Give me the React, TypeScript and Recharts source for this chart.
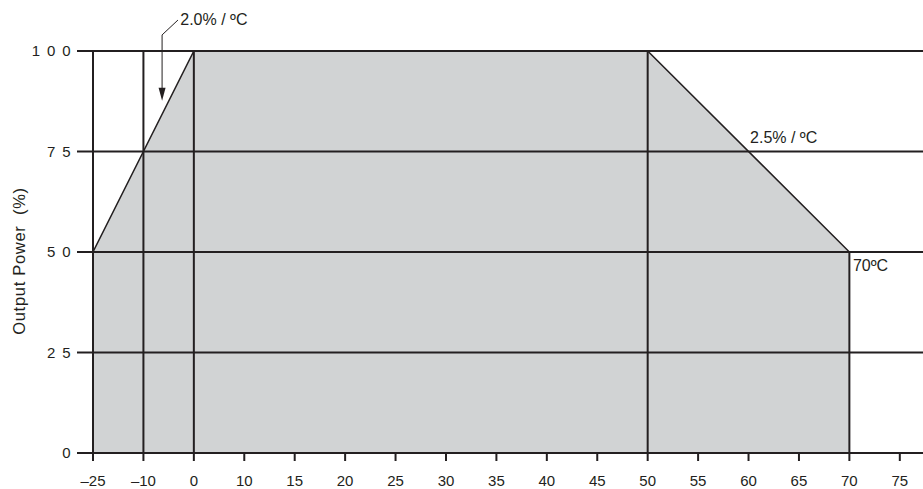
import React from 'react';
import { ComposedChart, Area, XAxis, YAxis, ReferenceLine, ReferenceDot } from 'recharts';

// Axis tick temperatures (°C) – the axis is evenly spaced by tick, not by value
const tickTemps = [-25, -10, 0, 10, 15, 20, 25, 30, 35, 40, 45, 50, 55, 60, 65, 70, 75];
const tickLabels = ['–25', '–10', '0', '10', '15', '20', '25', '30', '35', '40', '45', '50', '55', '60', '65', '70', '75'];

// Derating curve
const curveTemps = [-25, 0, 50, 70];
const curvePower = [50, 100, 100, 50];

// Y ticks
const yTicks = [0, 25, 50, 75, 100];
const yTickLabels = ['0', '2 5', '5 0', '7 5', '1 0 0'];

// Vertical grid temperatures
const gridTemps = [-25, -10, 0, 50];
const cutoffTemp = 70;
const cutoffPower = 50;

// Annotation texts
const slopeLeftLabel = '2.0% / ºC';
const slopeRightLabel = '2.5% / ºC';
const cutoffLabel = '70ºC';
const yTitle = 'Output Power  (%)';

const INK = '#231f20';
const FILL = '#d1d3d4';
const FONT = '"Liberation Sans", Arial, Helvetica, sans-serif';

// map a temperature onto the evenly spaced tick index axis
function toPos(t: number): number {
  for (let i = 0; i < tickTemps.length - 1; i++) {
    const a = tickTemps[i];
    const b = tickTemps[i + 1];
    if (t <= b || i === tickTemps.length - 2) {
      return i + (t - a) / (b - a);
    }
  }
  return 0;
}

const data = curveTemps.map((t, i) => ({ pos: toPos(t), power: curvePower[i] }));
const xTickPositions = tickTemps.map((_, i) => i);

const YTick = (props: any) => {
  const { x, y, payload } = props;
  const idx = yTicks.indexOf(payload.value);
  return (
    <text x={x} y={y} dy="0.36em" textAnchor="end" fill={INK} fontSize={15} fontFamily={FONT} letterSpacing={1.4} style={{ whiteSpace: 'pre' }}>
      {yTickLabels[idx]}
    </text>
  );
};

const XTick = (props: any) => {
  const { x, y, payload } = props;
  return (
    <text x={x} y={y} dy="0.71em" textAnchor="middle" fill={INK} fontSize={15} fontFamily={FONT}>
      {tickLabels[Math.round(payload.value)]}
    </text>
  );
};

const YTitle = (props: any) => {
  const vb = props.viewBox || { x: 0, y: 51, width: 93, height: 402 };
  const cx = vb.x + 19;
  const cy = vb.y + vb.height / 2 + 9;
  return (
    <text
      x={cx}
      y={cy}
      transform={`rotate(-90 ${cx} ${cy})`}
      textAnchor="middle"
      dy="0.36em"
      fill={INK}
      fontSize={16.5}
      fontFamily={FONT}
      letterSpacing={0.7}
      style={{ whiteSpace: 'pre' }}
    >
      {yTitle}
    </text>
  );
};

const textShape = (label: string) => (p: any) => (
  <text x={p.cx} y={p.cy} fill={INK} fontSize={16} fontFamily={FONT}>
    {label}
  </text>
);

const arrowHead = (p: any) => (
  <polygon
    points={`${p.cx},${p.cy} ${p.cx - 3.5},${p.cy - 13} ${p.cx + 3.5},${p.cy - 13}`}
    fill={INK}
  />
);

// annotation anchors (temperature, power)
const arrowTemp = -6.3;
const arrowTip = 87.6;
const arrowKnee = 104;
const leaderEnd = { t: -3.15, p: 107.7 };

export default function App() {
  return (
    <div style={{ position: 'absolute', left: 0, top: 0, background: '#fff' }}>
      <ComposedChart
        width={923}
        height={489}
        data={data}
        margin={{ top: 51, right: 0, bottom: 0, left: 0 }}
        style={{ fontFamily: FONT }}
      >
        <XAxis
          dataKey="pos"
          type="number"
          domain={[0, 16.46]}
          ticks={xTickPositions}
          allowDataOverflow
          height={36}
          tickSize={8}
          tickMargin={14}
          axisLine={{ stroke: INK, strokeWidth: 2 }}
          tickLine={{ stroke: INK, strokeWidth: 2 }}
          tick={<XTick />}
          interval={0}
        />
        <YAxis
          type="number"
          domain={[0, 100]}
          ticks={yTicks}
          width={93}
          tickSize={16}
          tickMargin={5}
          axisLine={false}
          tickLine={{ stroke: INK, strokeWidth: 2 }}
          tick={<YTick />}
          interval={0}
          label={<YTitle />}
        />
        <Area
          type="linear"
          dataKey="power"
          fill={FILL}
          fillOpacity={1}
          stroke={INK}
          strokeWidth={1.5}
          isAnimationActive={false}
          dot={false}
          activeDot={false}
        />
        {yTicks.filter((v) => v > 0).map((v) => (
          <ReferenceLine key={'h' + v} y={v} stroke={INK} strokeWidth={2} ifOverflow="visible" />
        ))}
        {gridTemps.map((t) => (
          <ReferenceLine key={'v' + t} x={toPos(t)} stroke={INK} strokeWidth={2} />
        ))}
        <ReferenceLine
          segment={[{ x: toPos(cutoffTemp), y: 0 }, { x: toPos(cutoffTemp), y: cutoffPower }]}
          stroke={INK}
          strokeWidth={2}
        />
        <ReferenceLine
          segment={[{ x: toPos(arrowTemp), y: arrowTip + 2 }, { x: toPos(arrowTemp), y: arrowKnee }]}
          stroke={INK}
          strokeWidth={1}
          ifOverflow="visible"
        />
        <ReferenceLine
          segment={[{ x: toPos(arrowTemp), y: arrowKnee }, { x: toPos(leaderEnd.t), y: leaderEnd.p }]}
          stroke={INK}
          strokeWidth={1}
          ifOverflow="visible"
        />
        <ReferenceDot x={toPos(arrowTemp)} y={arrowTip} r={0} ifOverflow="visible" shape={arrowHead} />
        <ReferenceDot x={toPos(-2.7)} y={106.4} r={0} ifOverflow="visible" shape={textShape(slopeLeftLabel)} />
        <ReferenceDot x={toPos(60.15)} y={77.1} r={0} ifOverflow="visible" shape={textShape(slopeRightLabel)} />
        <ReferenceDot x={toPos(70.35)} y={45.3} r={0} ifOverflow="visible" shape={textShape(cutoffLabel)} />
      </ComposedChart>
    </div>
  );
}
